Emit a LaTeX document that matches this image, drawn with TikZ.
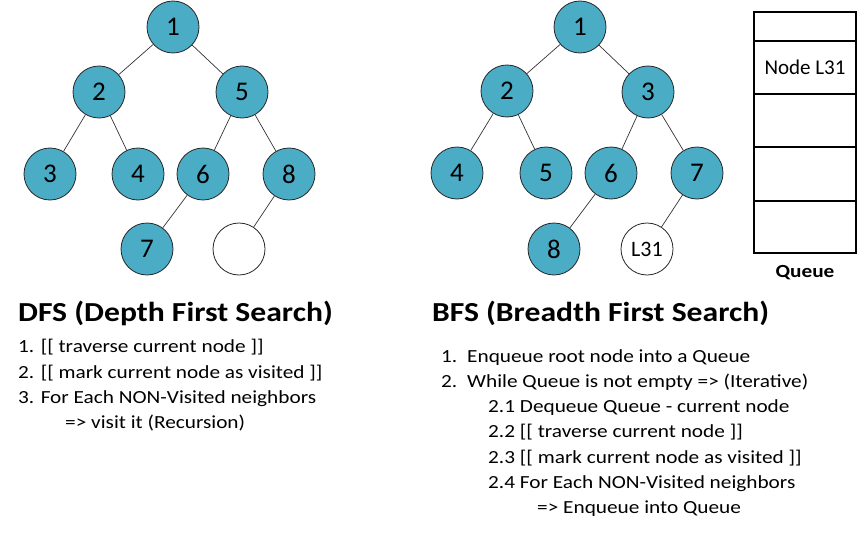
\documentclass[tikz,border=0pt]{standalone}
\usepackage{fontspec}
\setmainfont[FakeStretch=1.15]{Carlito}
\newfontfamily\cellfont{Carlito}
\definecolor{nodeblue}{HTML}{4BACC6}
\begin{document}
\begin{tikzpicture}[x=1pt,y=-1pt,
  vtx/.style={circle,draw=black!85,line width=0.8pt,fill=nodeblue,minimum size=52pt,inner sep=0pt,font=\cellfont\fontsize{27}{27}\selectfont},
  openvtx/.style={vtx,fill=white,font=\cellfont\fontsize{22}{22}\selectfont},
  link/.style={draw=black!80,line width=0.7pt},
  cell/.style={draw=black,line width=1.1pt,rectangle,inner sep=0pt,minimum width=102pt,font=\cellfont\fontsize{21}{21}\selectfont},
  title/.style={anchor=base west,inner sep=0pt,font=\fontsize{27.5}{27.5}\selectfont\bfseries},
  txt/.style={anchor=base west,inner sep=0pt,font=\fontsize{18.5}{18.5}\selectfont}
]
\useasboundingbox (0,0) rectangle (858,532);

% ---- DFS tree ----
\node[vtx] (d1) at (173,27) {1};
\node[vtx] (d2) at (99,92) {2};
\node[vtx] (d5) at (242,92) {5};
\node[vtx] (d3) at (50,174) {3};
\node[vtx] (d4) at (138,174) {4};
\node[vtx] (d6) at (203,174) {6};
\node[vtx] (d8) at (289,174) {8};
\node[vtx] (d7) at (147,249) {7};
\node[openvtx] (d9) at (239,249) {};
\draw[link] (d1) -- (d2);
\draw[link] (d1) -- (d5);
\draw[link] (d2) -- (d3);
\draw[link] (d2) -- (d4);
\draw[link] (d5) -- (d6);
\draw[link] (d5) -- (d8);
\draw[link] (d6) -- (d7);
\draw[link] (d8) -- (d9);

% ---- BFS tree ----
\node[vtx] (b1) at (580,27) {1};
\node[vtx] (b2) at (507,91) {2};
\node[vtx] (b3) at (648,92) {3};
\node[vtx] (b4) at (457,173) {4};
\node[vtx] (b5) at (546,173) {5};
\node[vtx] (b6) at (611,173) {6};
\node[vtx] (b7) at (697,173) {7};
\node[vtx] (b8) at (554,249) {8};
\node[openvtx] (b9) at (647,249) {L31};
\draw[link] (b1) -- (b2);
\draw[link] (b1) -- (b3);
\draw[link] (b2) -- (b4);
\draw[link] (b2) -- (b5);
\draw[link] (b3) -- (b6);
\draw[link] (b3) -- (b7);
\draw[link] (b6) -- (b8);
\draw[link] (b7) -- (b9);

% ---- Queue ----
\node[cell,minimum height=29pt] (q1) at (805,26.5) {};
\node[cell,minimum height=53pt] (q2) at (805,67.5) {Node L31};
\node[cell,minimum height=53pt] (q3) at (805,120.5) {};
\node[cell,minimum height=54pt] (q4) at (805,174) {};
\node[cell,minimum height=52pt] (q5) at (805,227) {};
\node[anchor=base,inner sep=0pt,font=\fontsize{18.5}{18.5}\selectfont\bfseries] (qlabel) at (805,277) {Queue};

% ---- DFS steps ----
\node[title] (dtitle) at (18,321) {DFS (Depth First Search)};
\node[txt] (ds1) at (18,352) {1. [[ traverse current node ]]};
\node[txt] (ds2) at (18,378) {2. [[ mark current node as visited ]]};
\node[txt] (ds3) at (18,403) {3. For Each NON-Visited neighbors};
\node[txt] (ds4) at (65,428) {=> visit it (Recursion)};

% ---- BFS steps ----
\node[title] (btitle) at (432,321) {BFS (Breadth First Search)};
\node[txt] (bs1n) at (441,362) {1.};
\node[txt] (bs1) at (467,362) {Enqueue root node into a Queue};
\node[txt] (bs2n) at (441,387) {2.};
\node[txt] (bs2) at (467,387) {While Queue is not empty => (Iterative)};
\node[txt] (bs21) at (488,412) {2.1 Dequeue Queue - current node};
\node[txt] (bs22) at (488,437) {2.2 [[ traverse current node ]]};
\node[txt] (bs23) at (488,463) {2.3 [[ mark current node as visited ]]};
\node[txt] (bs24) at (488,488) {2.4 For Each NON-Visited neighbors};
\node[txt] (bs25) at (537,513) {=> Enqueue into Queue};
\end{tikzpicture}
\end{document}
